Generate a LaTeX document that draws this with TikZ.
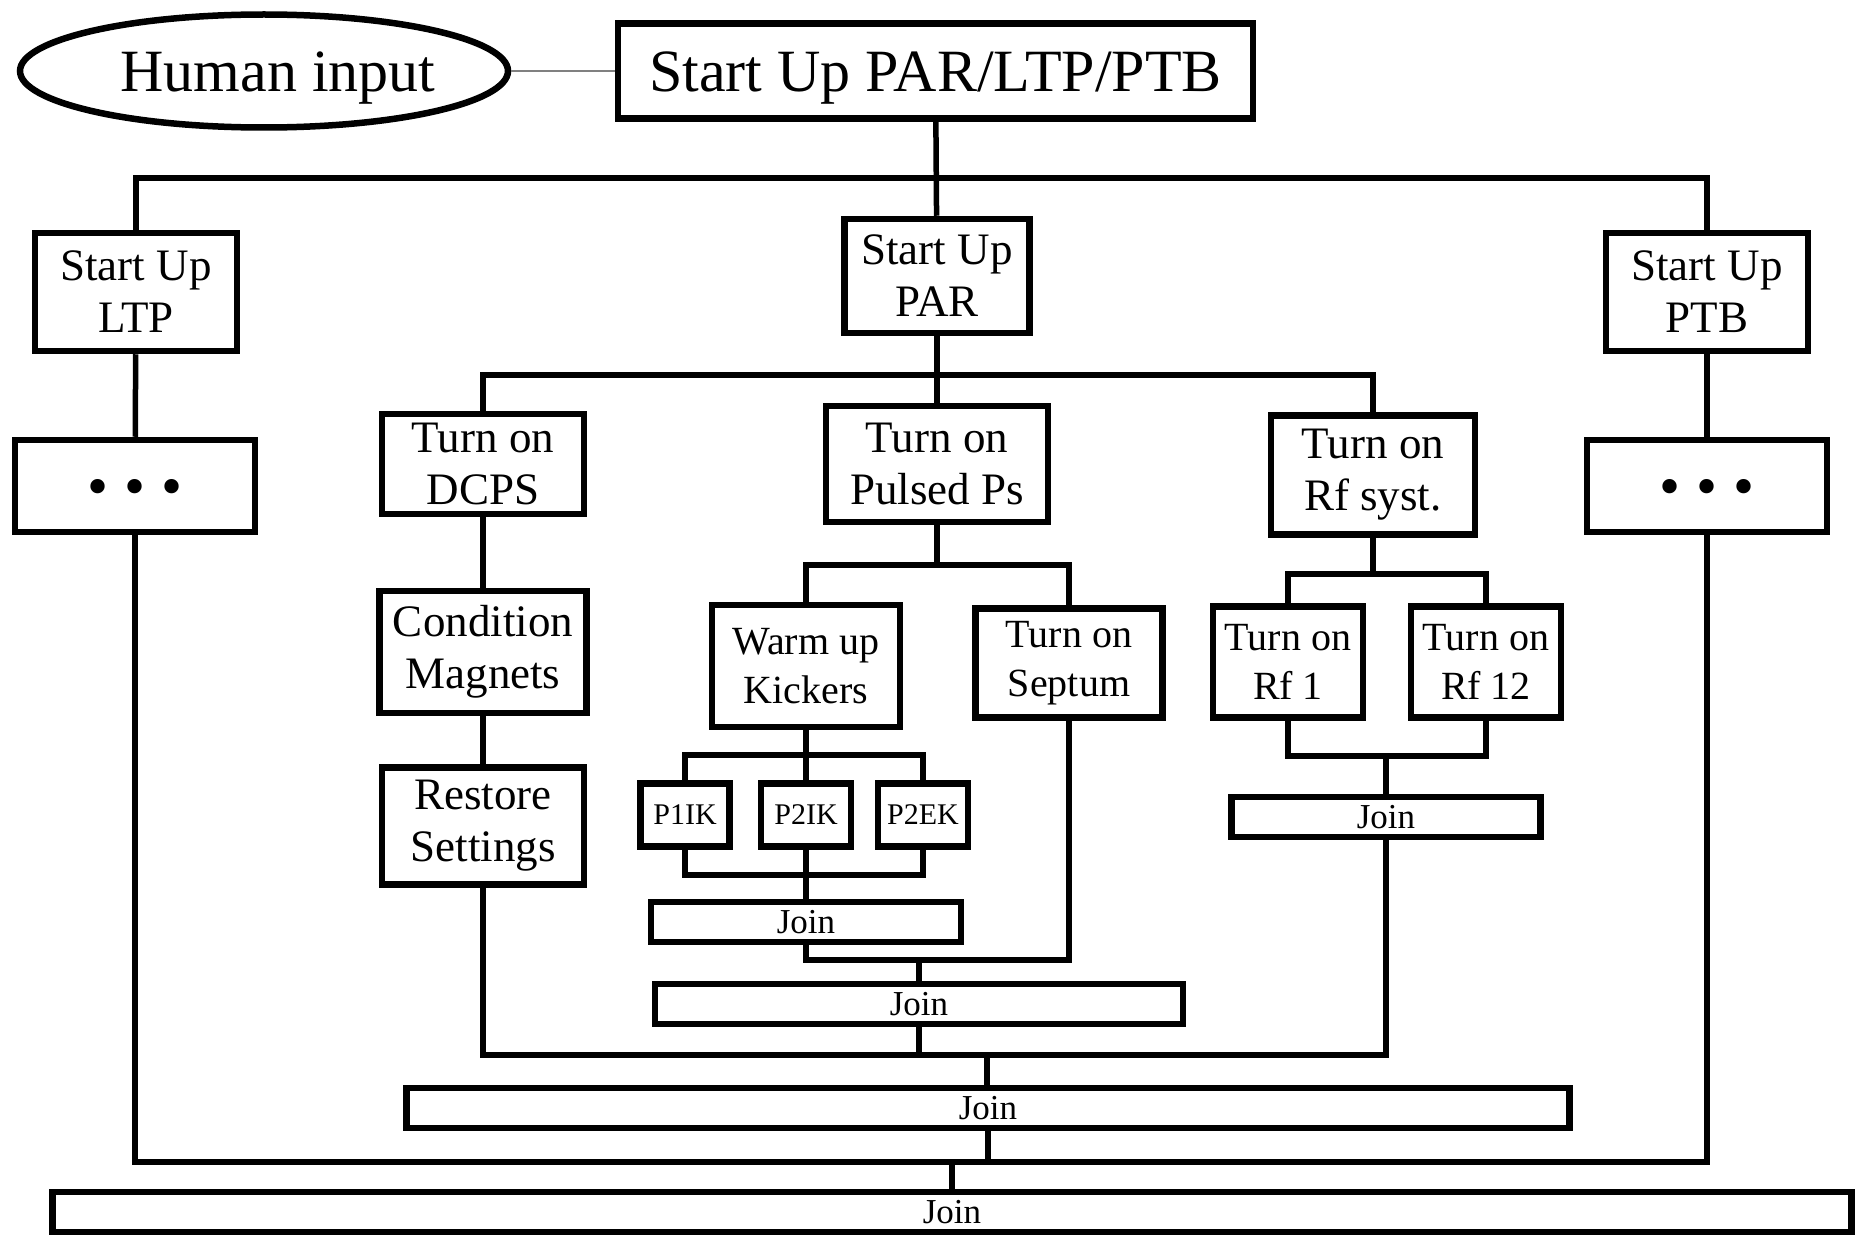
\documentclass[tikz,border=0pt]{standalone}
\usepackage{fontspec}
\setmainfont{Liberation Serif}
\usetikzlibrary{shapes.geometric}
\tikzset{
  task/.style={
      rectangle,
      draw,
      line width=6.5pt,
      inner sep=0pt,
      align=center,
      font=\fontsize{45}{52}\selectfont
  },
  subtask/.style={task, font=\fontsize{40}{49}\selectfont},
  kicker/.style={task, font=\fontsize{30}{34}\selectfont},
  joinbar/.style={task, minimum height=40pt, font=\fontsize{35}{40}\selectfont},
  dotbox/.style={task, minimum width=240pt, minimum height=92pt, text height=40pt, text depth=0pt,
      font=\fontsize{60}{64}\selectfont},
  wire/.style={line width=5.5pt}
}

\begin{document}
\begin{tikzpicture}[x=1pt,y=-1pt]
    \useasboundingbox (0,0) rectangle (1862,1236);
    \node[ellipse, draw, line width=6.5pt, inner sep=0pt, minimum width=488pt, minimum height=113pt,
          text height=42pt, text depth=0pt, font=\fontsize{60}{66}\selectfont]
          (human) at (264,71) {\hspace{28pt}Human input};
    \node[task, minimum width=635pt, minimum height=95pt, text height=42pt, text depth=0pt,
          font=\fontsize{60}{66}\selectfont] (top) at (935.5,71) {Start Up PAR/LTP/PTB};
    \node[task, minimum width=202pt, minimum height=118pt] (ltp) at (136,292) {Start Up\\LTP};
    \node[task, minimum width=185pt, minimum height=114pt] (par) at (937,276) {Start Up\\PAR};
    \node[task, minimum width=202pt, minimum height=118pt] (ptb) at (1707,292) {Start Up\\PTB};
    \node[dotbox] (dotsL) at (135,486) {\textbullet\hspace{16pt}\textbullet\hspace{16pt}\textbullet};
    \node[dotbox] (dotsR) at (1707,486) {\textbullet\hspace{16pt}\textbullet\hspace{16pt}\textbullet};
    \node[task, minimum width=202pt, minimum height=100pt] (dcps) at (483,464) {Turn on\\DCPS};
    \node[task, minimum width=222pt, minimum height=116pt] (pulsed) at (937,464) {Turn on\\Pulsed Ps};
    \node[task, minimum width=204pt, minimum height=119pt] (rfsys) at (1373,475) {Turn on\\Rf syst.};
    \node[task, minimum width=207pt, minimum height=122pt] (cond) at (483,652) {Condition\\Magnets};
    \node[task, minimum width=202pt, minimum height=117pt] (restore) at (483,826) {Restore\\Settings};
    \node[subtask, minimum width=188pt, minimum height=122pt] (warm) at (806,666) {Warm up\\Kickers};
    \node[subtask, minimum width=187pt, minimum height=109pt] (septum) at (1069,663) {Turn on\\Septum};
    \node[kicker, minimum width=89pt, minimum height=63pt] (p1ik) at (685,815) {P1IK};
    \node[kicker, minimum width=90pt, minimum height=63pt] (p2ik) at (806,815) {P2IK};
    \node[kicker, minimum width=90pt, minimum height=63pt] (p2ek) at (923,815) {P2EK};
    \node[joinbar, minimum width=310pt] (joinK) at (806,922) {Join};
    \node[joinbar, minimum width=528pt] (joinP) at (919,1004) {Join};
    \node[subtask, minimum width=150pt, minimum height=111pt] (rf1) at (1288,662) {Turn on\\Rf 1};
    \node[subtask, minimum width=150pt, minimum height=111pt] (rf12) at (1486,662) {Turn on\\Rf 12};
    \node[joinbar, minimum width=309pt] (joinR) at (1386,817) {Join};
    \node[joinbar, minimum width=1163pt] (joinA) at (988,1108) {Join};
    \node[joinbar, minimum width=1799pt] (joinB) at (952,1212) {Join};

    \coordinate (busT) at (937,178);
    \coordinate (busB) at (952,1162);
    \coordinate (busP) at (937,375);
    \coordinate (busQ) at (937,565);
    \coordinate (busK) at (806,755);
    \coordinate (busL) at (806,875);
    \coordinate (mergeP) at (919,960);
    \coordinate (busR) at (1373,574);
    \coordinate (busS) at (1386,756);
    \coordinate (busJ) at (987,1055);

    \draw[gray, line width=1.2pt] (human) -- (top);
    \draw[wire] (top) -- (par);
    \draw[wire] (ltp.north) |- (busT) -| (ptb.north);
    \draw[wire] (ltp) -- (dotsL);
    \draw[wire] (ptb) -- (dotsR);
    \draw[wire] (dotsL.south) |- (busB) -| (dotsR.south);
    \draw[wire] (joinA.south) |- (busB);
    \draw[wire] (busB) -- (joinB.north -| busB);

    \draw[wire] (par) -- (pulsed);
    \draw[wire] (dcps.north) |- (busP) -| (rfsys.north);
    \draw[wire] (dcps) -- (cond);
    \draw[wire] (cond) -- (restore);

    \draw[wire] (pulsed) -- (busQ);
    \draw[wire] (warm.north) |- (busQ) -| (septum.north);
    \draw[wire] (warm) -- (busK);
    \draw[wire] (p1ik.north) |- (busK) -| (p2ek.north);
    \draw[wire] (p2ik) -- (busK);
    \draw[wire] (p1ik.south) |- (busL) -| (p2ek.south);
    \draw[wire] (p2ik) -- (busL);
    \draw[wire] (busL) -- (joinK);
    \draw[wire] (joinK.south) |- (mergeP);
    \draw[wire] (septum.south) |- (mergeP);
    \draw[wire] (mergeP) -- (joinP);

    \draw[wire] (rfsys) -- (busR);
    \draw[wire] (rf1.north) |- (busR) -| (rf12.north);
    \draw[wire] (rf1.south) |- (busS) -| (rf12.south);
    \draw[wire] (busS) -- (joinR);

    \draw[wire] (restore.south) |- (busJ);
    \draw[wire] (joinR.south) |- (busJ);
    \draw[wire] (joinP.south) -- (joinP.south |- busJ);
    \draw[wire] (busJ) -- (joinA.north -| busJ);
\end{tikzpicture}
\end{document}
